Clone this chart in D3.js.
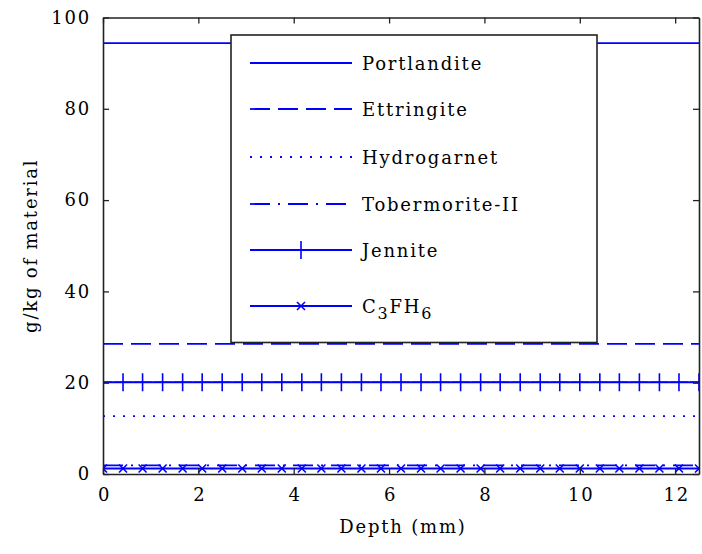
<!DOCTYPE html>
<html>
<head>
<meta charset="utf-8">
<script src="https://cdn.jsdelivr.net/npm/d3@7"></script>
<style>
  body { margin: 0; background: #fff; }
  text { font-family: "DejaVu Serif", serif; font-size: 18px; letter-spacing: 1.8px; fill: #000; }
</style>
</head>
<body>
<svg id="chart" width="702" height="554"></svg>
<script>
// Depth grid (mm)
const depth = [0, 0.42, 0.83, 1.25, 1.67, 2.08, 2.5, 2.92, 3.33, 3.75, 4.17, 4.58, 5, 5.42, 5.83, 6.25,
               6.67, 7.08, 7.5, 7.92, 8.33, 8.75, 9.17, 9.58, 10, 10.42, 10.83, 11.25, 11.67, 12.08, 12.5];

// Phase contents (g/kg of material) along depth
const portlandite = [94.4, 94.4, 94.4, 94.4, 94.4, 94.4, 94.4, 94.4, 94.4, 94.4, 94.4, 94.4, 94.4, 94.4, 94.4, 94.4,
                     94.4, 94.4, 94.4, 94.4, 94.4, 94.4, 94.4, 94.4, 94.4, 94.4, 94.4, 94.4, 94.4, 94.4, 94.4];
const ettringite = [28.5, 28.5, 28.5, 28.5, 28.5, 28.5, 28.5, 28.5, 28.5, 28.5, 28.5, 28.5, 28.5, 28.5, 28.5, 28.5,
                    28.5, 28.5, 28.5, 28.5, 28.5, 28.5, 28.5, 28.5, 28.5, 28.5, 28.5, 28.5, 28.5, 28.5, 28.5];
const hydrogarnet = [12.7, 12.7, 12.7, 12.7, 12.7, 12.7, 12.7, 12.7, 12.7, 12.7, 12.7, 12.7, 12.7, 12.7, 12.7, 12.7,
                     12.7, 12.7, 12.7, 12.7, 12.7, 12.7, 12.7, 12.7, 12.7, 12.7, 12.7, 12.7, 12.7, 12.7, 12.7];
const tobermorite = [1.9, 1.9, 1.9, 1.9, 1.9, 1.9, 1.9, 1.9, 1.9, 1.9, 1.9, 1.9, 1.9, 1.9, 1.9, 1.9,
                     1.9, 1.9, 1.9, 1.9, 1.9, 1.9, 1.9, 1.9, 1.9, 1.9, 1.9, 1.9, 1.9, 1.9, 1.9];
const jennite = [20.1, 20.1, 20.1, 20.1, 20.1, 20.1, 20.1, 20.1, 20.1, 20.1, 20.1, 20.1, 20.1, 20.1, 20.1, 20.1,
                 20.1, 20.1, 20.1, 20.1, 20.1, 20.1, 20.1, 20.1, 20.1, 20.1, 20.1, 20.1, 20.1, 20.1, 20.1];
const c3fh6 = [1.2, 1.2, 1.2, 1.2, 1.2, 1.2, 1.2, 1.2, 1.2, 1.2, 1.2, 1.2, 1.2, 1.2, 1.2, 1.2,
               1.2, 1.2, 1.2, 1.2, 1.2, 1.2, 1.2, 1.2, 1.2, 1.2, 1.2, 1.2, 1.2, 1.2, 1.2];

const xTicks = [0, 2, 4, 6, 8, 10, 12];
const yTicks = [0, 20, 40, 60, 80, 100];
const xLabel = "Depth (mm)";
const yLabel = "g/kg of material";

// Series styling
const series = [
  { name: "Portlandite",    values: portlandite, dash: null,          marker: null },
  { name: "Ettringite",     values: ettringite,  dash: "20,8",        marker: null },
  { name: "Hydrogarnet",    values: hydrogarnet, dash: "2,8",         marker: null },
  { name: "Tobermorite-II", values: tobermorite, dash: "20,8,2,8",    marker: null },
  { name: "Jennite",        values: jennite,     dash: null,          marker: "plus" },
  { name: "C3FH6",          values: c3fh6,       dash: null,          marker: "cross" }
];

const BLUE = "#0000ff";
const FONT = '"DejaVu Serif", serif';
const svg = d3.select("#chart");
const L = 103, R = 699, T = 17.5, B = 474;

const x = d3.scaleLinear().domain([0, 12.5]).range([L, R]);
const y = d3.scaleLinear().domain([0, 100]).range([B, T]);

svg.append("defs").append("clipPath").attr("id", "plotClip")
  .append("rect").attr("x", L).attr("y", T).attr("width", R - L).attr("height", B - T);

const markerPath = {
  plus: "M0,-9V9M-9,0H9",
  cross: "M-4,-4L4,4M-4,4L4,-4"
};

// Data lines
const plot = svg.append("g").attr("clip-path", "url(#plotClip)");
const line = d3.line().x(d => x(d[0])).y(d => y(d[1]));

series.forEach(s => {
  const pts = depth.map((d, i) => [d, s.values[i]]);
  plot.append("path")
    .attr("d", line(pts))
    .attr("fill", "none")
    .attr("stroke", BLUE)
    .attr("stroke-width", 1.8)
    .attr("stroke-dasharray", s.dash);
  if (s.marker) {
    plot.selectAll(null).data(pts).enter().append("path")
      .attr("transform", d => `translate(${x(d[0])},${y(d[1])})`)
      .attr("d", markerPath[s.marker])
      .attr("fill", "none")
      .attr("stroke", BLUE)
      .attr("stroke-width", 1.6);
  }
});

// Axes (ticks pointing inward, mirrored on top and right)
const axisColor = "#222";
const axBottom = svg.append("g").attr("transform", `translate(0,${B})`)
  .call(d3.axisBottom(x).tickValues(xTicks).tickSizeInner(-6).tickSizeOuter(0).tickPadding(14));
const axTop = svg.append("g").attr("transform", `translate(0,${T})`)
  .call(d3.axisTop(x).tickValues(xTicks).tickSizeInner(-6).tickSizeOuter(0).tickFormat(""));
const axLeft = svg.append("g").attr("transform", `translate(${L},0)`)
  .call(d3.axisLeft(y).tickValues(yTicks).tickSizeInner(-6).tickSizeOuter(0).tickPadding(14));
const axRight = svg.append("g").attr("transform", `translate(${R},0)`)
  .call(d3.axisRight(y).tickValues(yTicks).tickSizeInner(-6).tickSizeOuter(0).tickFormat(""));

[axBottom, axTop, axLeft, axRight].forEach(g => {
  g.select(".domain").attr("stroke", axisColor).attr("stroke-width", 1.6);
  g.selectAll(".tick line").attr("stroke", axisColor).attr("stroke-width", 1.3);
  g.selectAll(".tick text")
    .style("font-family", FONT)
    .style("font-size", "18px").style("letter-spacing", "1.8px").attr("fill", "#000");
});
axBottom.selectAll(".tick text").attr("dx", "1px");
axLeft.selectAll(".tick text").attr("dx", "2px");

// Axis titles
svg.append("text")
  .attr("x", (L + R) / 2 + 2).attr("y", 533)
  .attr("text-anchor", "middle")
  .text(xLabel);
svg.append("text")
  .attr("transform", `translate(37,${(T + B) / 2}) rotate(-90)`)
  .attr("text-anchor", "middle")
  .text(yLabel);

// Legend
const lg = svg.append("g");
lg.append("rect")
  .attr("x", 231).attr("y", 35).attr("width", 366).attr("height", 307.5)
  .attr("fill", "#fff").attr("stroke", axisColor).attr("stroke-width", 1.6);

const rowY = [63, 109, 157, 204, 250, 306];
series.forEach((s, i) => {
  const yy = rowY[i];
  lg.append("line")
    .attr("x1", 250).attr("x2", 352).attr("y1", yy).attr("y2", yy)
    .attr("stroke", BLUE).attr("stroke-width", 1.8)
    .attr("stroke-dasharray", s.dash);
  if (s.marker) {
    lg.append("path")
      .attr("transform", `translate(301,${yy})`)
      .attr("d", markerPath[s.marker])
      .attr("fill", "none").attr("stroke", BLUE).attr("stroke-width", 1.6);
  }
  const t = lg.append("text").attr("x", 362).attr("y", yy + 7);
  if (s.name === "C3FH6") {
    t.append("tspan").text("C");
    t.append("tspan").attr("dy", 6).style("font-size", "16px").text("3");
    t.append("tspan").attr("dy", -6).text("FH");
    t.append("tspan").attr("dy", 6).style("font-size", "16px").text("6");
  } else {
    t.text(s.name);
  }
});
</script>
</body>
</html>
